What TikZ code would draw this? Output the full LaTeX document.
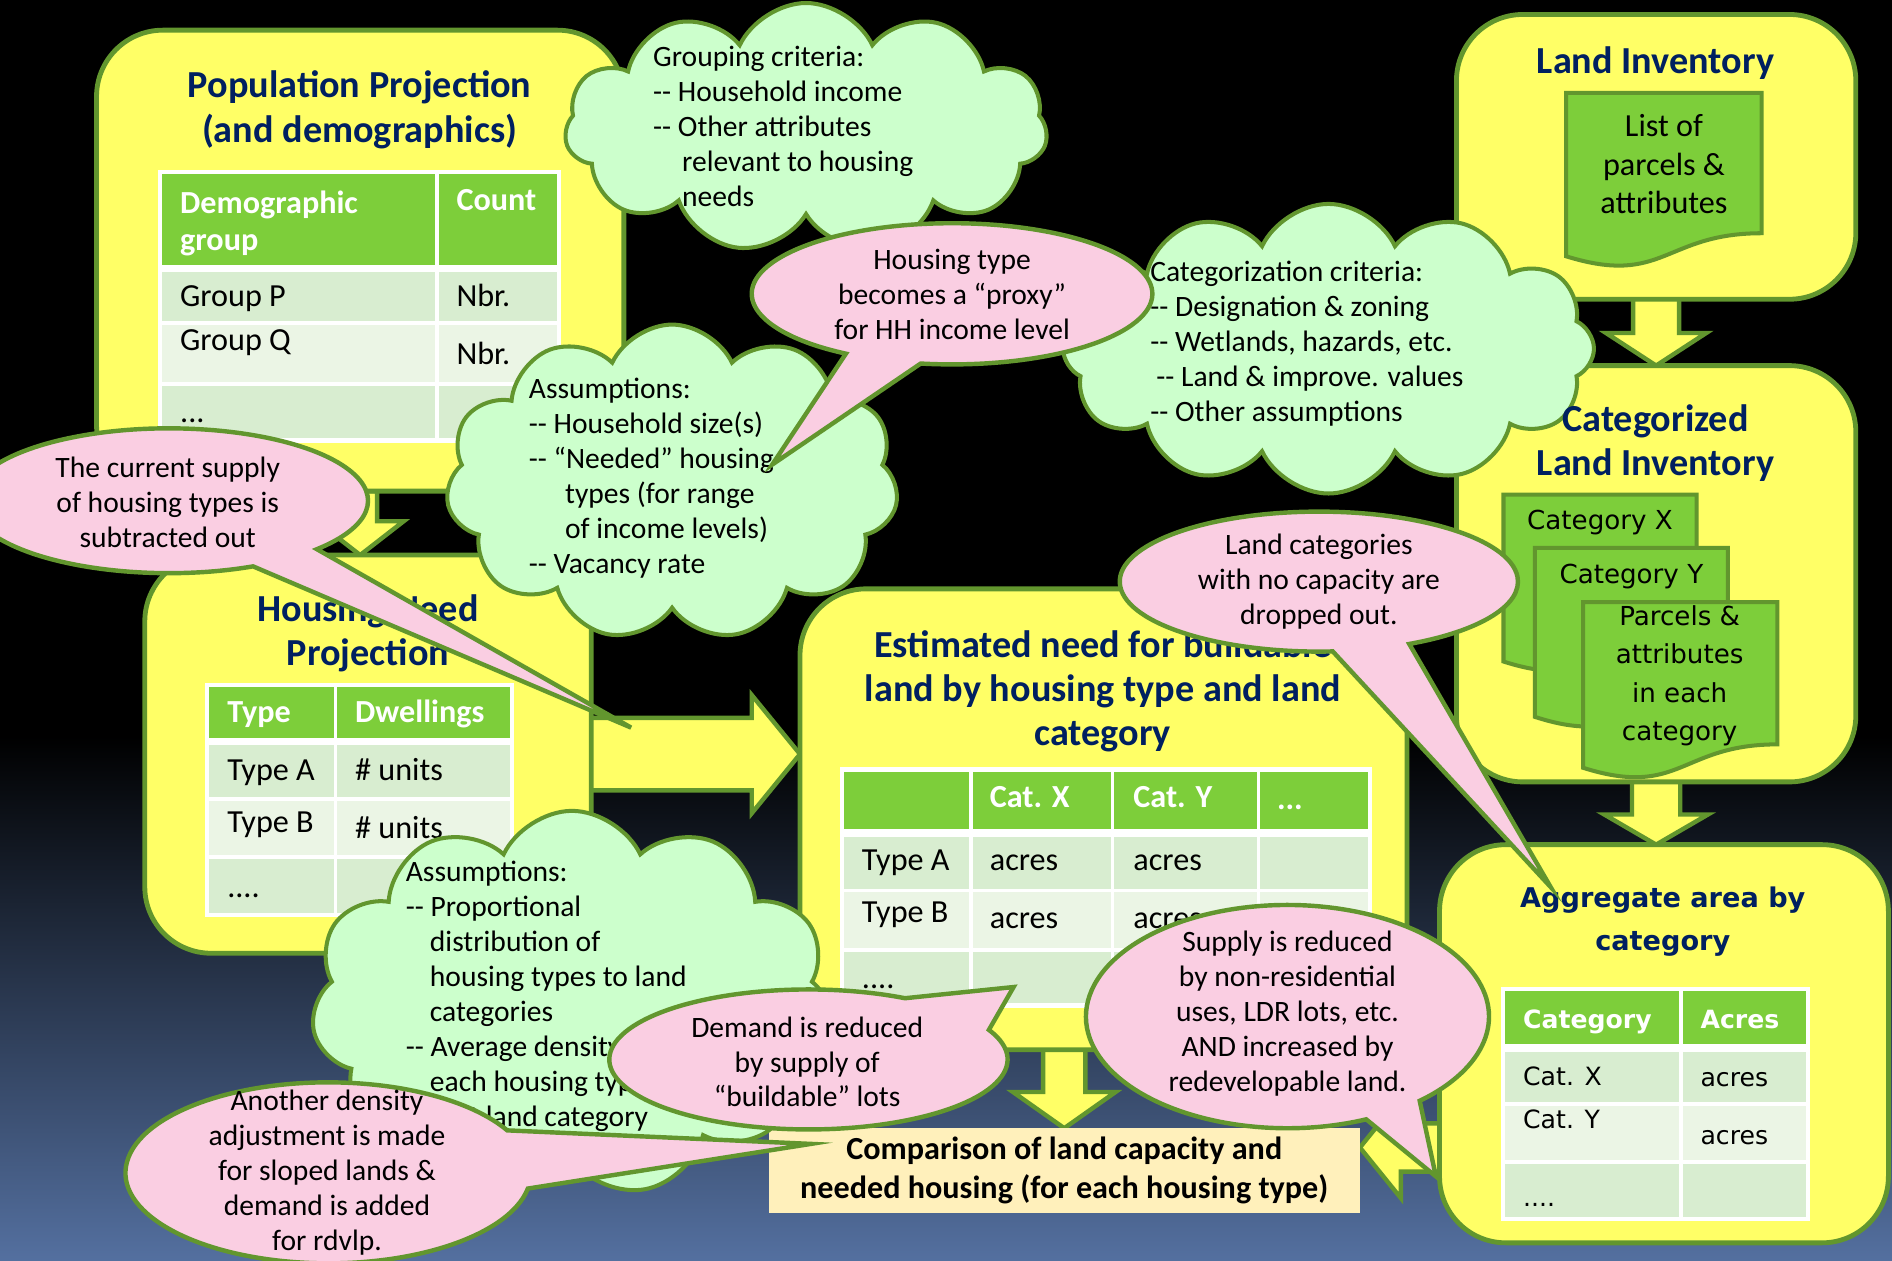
\documentclass[tikz,border=0pt]{standalone}
\usepackage{fontspec}
\setmainfont{Carlito}
\newfontfamily\dvs{DejaVu Sans}
\usetikzlibrary{shapes.symbols,calc}
\definecolor{yfill}{RGB}{255,255,102}
\definecolor{gline}{RGB}{98,150,46}
\definecolor{pfill}{RGB}{250,206,226}
\definecolor{cfill}{RGB}{204,255,204}
\definecolor{hdr}{RGB}{125,206,58}
\definecolor{rowa}{RGB}{216,237,208}
\definecolor{rowb}{RGB}{235,245,229}
\definecolor{navy}{RGB}{0,32,96}
\definecolor{cream}{RGB}{255,240,187}
\definecolor{bgblue}{RGB}{84,112,160}
\newcommand\dd{-\kern0pt-}
\newcommand\boxnode[6][]{\node[ybox,#1,minimum width={(#5-#3)*0.6pt},minimum height={(#6-#4)*0.6pt}] (#2) at ({(#3+#5)/2},{(#4+#6)/2}) {};}
\newcommand\cell[5]{\fill[#5] ({#1+1.6},{#2+1.6}) rectangle ({#3-1.6},{#4-1.6});}
\newcommand\docsh[4]{\draw[docst] (#1,#2) -- ({#1+#3},#2) -- ({#1+#3},{#2+0.802*#4}) .. controls ({#1+0.5*#3},{#2+0.802*#4}) and ({#1+0.5*#3},{#2+1.107*#4}) .. (#1,{#2+0.934*#4}) -- cycle;}
\newcommand\darrow[5]{\draw[barrow] ($(#1)+(-#3,0)$) -- ($(#1)+(#3,0)$) -- ($(#2)+(#3,-#5)$) -- ($(#2)+(#4,-#5)$) -- (#2) -- ($(#2)+(-#4,-#5)$) -- ($(#2)+(-#3,-#5)$) -- cycle;}
\newcommand\rarrow[5]{\draw[barrow] ($(#1)+(0,-#3)$) -- ($(#2)+(-#5,-#3)$) -- ($(#2)+(-#5,-#4)$) -- (#2) -- ($(#2)+(-#5,#4)$) -- ($(#2)+(-#5,#3)$) -- ($(#1)+(0,#3)$) -- cycle;}
\newcommand\larrow[5]{\draw[barrow] ($(#1)+(0,-#3)$) -- ($(#2)+(#5,-#3)$) -- ($(#2)+(#5,-#4)$) -- (#2) -- ($(#2)+(#5,#4)$) -- ($(#2)+(#5,#3)$) -- ($(#1)+(0,#3)$) -- cycle;}
\newcommand\callout[6]{\draw[callout] ($(#1)+(#4:#2 and #3)$) arc[start angle=#4, end angle={#5+360}, x radius=#2, y radius=#3] -- (#6) -- cycle;}
\tikzset{
 ybox/.style={draw=gline, line width=2.4pt, fill=yfill, rounded corners=33pt, inner sep=0pt, outer sep=0pt},
 barrow/.style={draw=gline, line width=2.2pt, fill=yfill, line join=miter},
 docst/.style={draw=gline, line width=2pt, fill=hdr, line join=miter},
 cloudy/.style={cloud, cloud puffs=11, cloud puff arc=130, cloud ignores aspect, draw=gline, fill=cfill, line width=2pt, inner sep=0pt, outer sep=0pt},
 callout/.style={draw=gline, fill=pfill, line width=2.2pt, line join=miter},
 ttl/.style={font=\fontsize{19}{22}\selectfont\bfseries, text=navy, align=center, inner sep=0pt},
 body/.style={font=\fontsize{14.7}{17.4}\selectfont, inner sep=0pt},
 ctext/.style={body, align=center},
 ltext/.style={body, align=left, anchor=west},
 tb/.style={font=\fontsize{16}{18.6}\selectfont, inner sep=0pt, anchor=west, text height=1.05em, text depth=0.23em},
 th/.style={tb, font=\fontsize{16}{18.6}\selectfont\bfseries, text=white},
 dtb/.style={font=\dvs\fontsize{12.5}{15}\selectfont, inner sep=0pt, anchor=west, text height=1.1em, text depth=0.2em},
 dth/.style={dtb, font=\dvs\fontsize{12.5}{15}\selectfont\bfseries, text=white},
}
\begin{document}
\begin{tikzpicture}[x=0.6pt,y=-0.6pt]
\useasboundingbox (0,0) rectangle (1568,1045);
\clip (0,0) rectangle (1568,1045);
% background
\fill[black] (0,0) rectangle (1568,1045);
\shade[top color=black, bottom color=bgblue] (0,610) rectangle (1568,1046);

% ---- block arrows (drawn first, boxes cover their ends) ----
\coordinate (popS) at (298.5,407);
\coordinate (hnN) at (298.5,460);
\coordinate (hnE) at (480,625);
\coordinate (estW) at (663,625);
\coordinate (liS) at (1372.5,238);
\coordinate (clN) at (1372.5,303);
\coordinate (clS) at (1372.5,638);
\coordinate (agN) at (1372.5,700);
\coordinate (estS) at (882,860);
\coordinate (cmpN) at (882,935);
\coordinate (agW) at (1203,951);
\coordinate (cmpE) at (1127,951);
\darrow{popS}{hnN}{14}{36}{28}
\rarrow{hnE}{estW}{30}{49}{40}
\darrow{liS}{clN}{19}{41.5}{27}
\darrow{clS}{agN}{20}{43}{25}
\darrow{estS}{cmpN}{17.5}{42.5}{30}
\larrow{agW}{cmpE}{20}{42}{34}

% ---- boxes ----
\boxnode{pop}{80}{25}{517}{407}
\boxnode{hn}{120}{460}{490}{790}
\boxnode{est}{663}{488}{1166}{870}
\boxnode{li}{1207}{12}{1538}{248}
\boxnode{cl}{1207}{303}{1538}{648}
\boxnode{ag}{1193}{700}{1565}{1030}
\node[fill=cream, inner sep=0pt, minimum width={490*0.6pt}, minimum height={70*0.6pt}] (cmp) at (882,970) {};

% ---- population table ----
\fill[white] (131,141) rectangle (465,367);
\cell{133}{143}{362}{221}{hdr} \cell{362}{143}{463}{221}{hdr}
\cell{133}{224}{362}{268}{rowa} \cell{362}{224}{463}{268}{rowa}
\cell{133}{268}{362}{318}{rowb} \cell{362}{268}{463}{318}{rowb}
\cell{133}{318}{362}{365}{rowa} \cell{362}{318}{463}{365}{rowa}
\node[ttl] (popT) at (298,91) {Population Projection\\(and demographics)};
\node[font=\fontsize{16}{18.6}\selectfont\bfseries, text=white, align=left, anchor=west, inner sep=0pt] (pH1) at (149,185) {Demographic\\group};
\node[th] (pH2) at (378,168) {Count};
\node[tb] (p11) at (149,247) {Group P};
\node[tb] (p12) at (378,247) {Nbr.};
\node[tb] (p21) at (149,284) {Group Q};
\node[tb] (p22) at (378,295) {Nbr.};
\node[tb] (p31) at (149,343) {...};

% ---- housing need table ----
\fill[white] (170,566) rectangle (426,760);
\cell{172}{568}{278}{613}{hdr} \cell{278}{568}{424}{613}{hdr}
\cell{172}{616}{278}{662}{rowa} \cell{278}{616}{424}{662}{rowa}
\cell{172}{662}{278}{710}{rowb} \cell{278}{662}{424}{710}{rowb}
\cell{172}{710}{278}{758}{rowa} \cell{278}{710}{424}{758}{rowa}
\node[ttl] (hnT) at (305,525) {Housing Need\\Projection};
\node[th] (h01) at (188,592) {Type};
\node[th] (h02) at (294,592) {Dwellings};
\node[tb] (h11) at (188,640) {Type A};
\node[tb] (h12) at (294,640) {\# units};
\node[tb] (h21) at (188,683) {Type B};
\node[tb] (h22) at (294,688) {\# units};
\node[tb] (h31) at (188,737) {....};

% ---- estimated table ----
\fill[white] (696,636) rectangle (1137,835);
\foreach \a/\b in {698/805,805/922,922/1043,1043/1135}{
 \cell{\a}{638}{\b}{689}{hdr}
 \cell{\a}{692}{\b}{738}{rowa}
 \cell{\a}{738}{\b}{787}{rowb}
 \cell{\a}{787}{\b}{833}{rowa}}
\node[ttl] (estT) at (914,573) {Estimated need for buildable\\land by housing type and land\\category};
\node[th] (e02) at (820,662) {Cat. X};
\node[th] (e03) at (939,662) {Cat. Y};
\node[th] (e04) at (1058,664) {...};
\node[tb] (e11) at (714,715) {Type A};
\node[tb] (e12) at (820,715) {acres};
\node[tb] (e13) at (939,715) {acres};
\node[tb] (e21) at (714,758) {Type B};
\node[tb] (e22) at (820,763) {acres};
\node[tb] (e23) at (939,763) {acres};
\node[tb] (e31) at (714,812) {....};

% ---- land inventory ----
\node[ttl] (liT) at (1372,52) {Land Inventory};
\docsh{1298}{77}{162}{145}
\node[font=\fontsize{16}{19.2}\selectfont, align=center, inner sep=0pt] (liD) at (1379,136) {List of\\parcels \&\\attributes};

% ---- categorized land inventory docs ----
\docsh{1246}{410}{160}{148}
\node[font=\dvs\fontsize{13}{19.2}\selectfont, inner sep=0pt] (cxT) at (1326,433) {Category X};
\docsh{1272}{454}{160}{150}
\node[font=\dvs\fontsize{13}{19.2}\selectfont, inner sep=0pt] (cyT) at (1352,478) {Category Y};
\docsh{1312}{499}{161}{147}
\node[font=\dvs\fontsize{13}{19.2}\selectfont, align=center, inner sep=0pt] (pcT) at (1392,560) {Parcels \&\\attributes\\in each\\category};

% ---- aggregate ----
\node[ttl, font=\dvs\fontsize{13.5}{21.6}\selectfont\bfseries] (agT) at (1378,764) {Aggregate area by\\category};
\fill[white] (1244,818) rectangle (1500,1012);
\cell{1246}{820}{1393}{867}{hdr} \cell{1393}{820}{1498}{867}{hdr}
\cell{1246}{870}{1393}{915}{rowa} \cell{1393}{870}{1498}{915}{rowa}
\cell{1246}{915}{1393}{963}{rowb} \cell{1393}{915}{1498}{963}{rowb}
\cell{1246}{963}{1393}{1010}{rowa} \cell{1393}{963}{1498}{1010}{rowa}
\node[dth] (a01) at (1262,845) {Category};
\node[dth] (a02) at (1409,845) {Acres};
\node[dtb] (a11) at (1262,892) {Cat. X};
\node[dtb] (a12) at (1409,893) {acres};
\node[dtb] (a21) at (1262,928) {Cat. Y};
\node[dtb] (a22) at (1409,941) {acres};
\node[dtb] (a31) at (1262,992) {....};

% ---- comparison text ----
\node[font=\fontsize{16}{19.8}\selectfont\bfseries, align=center, inner sep=0pt] (cmpT) at (cmp.center) {Comparison of land capacity and\\needed housing (for each housing type)};

% ---- clouds ----
\node[cloudy, minimum width={400*0.6pt}, minimum height={207*0.6pt}] (gc) at (668,106) {};
\node[ltext] (gcT) at (541,105) {Grouping criteria:\\\dd{} Household income\\\dd{} Other attributes\\\hspace*{14.4pt}relevant to housing\\\hspace*{14.4pt}needs};
\node[cloudy, cloud puffs=12, minimum width={440*0.6pt}, minimum height={240*0.6pt}] (cc) at (1101,289) {};
\node[ltext] (ccT) at (953,284.5) {Categorization criteria:\\\dd{} Designation \& zoning\\\dd{} Wetlands, hazards, etc.\\\hspace*{3pt}\dd{} Land \& improve. values\\\dd{} Other assumptions};
\node[cloudy, minimum width={375*0.6pt}, minimum height={262*0.6pt}] (a1c) at (557,400) {};
\node[ltext] (a1T) at (438,396.5) {Assumptions:\\\dd{} Household size(s)\\\dd{} “Needed” housing\\\hspace*{18pt}types (for range\\\hspace*{18pt}of income levels)\\\dd{} Vacancy rate};
\node[cloudy, minimum width={432*0.6pt}, minimum height={320*0.6pt}] (a2c) at (474,832) {};
\node[ltext] (a2T) at (336,825.5) {Assumptions:\\\dd{} Proportional\\\hspace*{12pt}distribution of\\\hspace*{12pt}housing types to land\\\hspace*{12pt}categories\\\dd{} Average density for\\\hspace*{12pt}each housing type in\\\hspace*{12pt}that land category};

% title of categorized box stays visible above the cloud edge
\node[ttl] (clT) at (1372,367) {Categorized\\Land Inventory};

% ---- callouts ----
\coordinate (csC) at (140,415);   \coordinate (csP) at (523,603);
\coordinate (htC) at (789,243.5); \coordinate (htP) at (640,385);
\coordinate (lcC) at (1093,482);  \coordinate (lcP) at (1285,735);
\coordinate (dmC) at (670,878);   \coordinate (dmP) at (840,818);
\coordinate (spC) at (1067,842.5);\coordinate (spP) at (1190,975);
\coordinate (anC) at (272,972);   \coordinate (anP) at (672,948);
\callout{csC}{165}{60}{65}{42}{csP}
\node[ctext] (csT) at (139,416) {The current supply\\of housing types is\\subtracted out};
\callout{htC}{166}{58.5}{122}{99}{htP}
\node[ctext] (htT) at (789,244) {Housing type\\becomes a “proxy”\\for HH income level};
\callout{lcC}{165}{58}{86}{63}{lcP}
\node[ctext] (lcT) at (1093,482) {Land categories\\with no capacity are\\dropped out.};
\callout{dmC}{165}{58}{-25}{-61}{dmP}
\node[ctext] (dmT) at (669,880) {Demand is reduced\\by supply of\\“buildable” lots};
\callout{spC}{167}{92.5}{67}{49}{spP}
\node[ctext] (spT) at (1067,840) {Supply is reduced\\by non-residential\\uses, LDR lots, etc.\\AND increased by\\redevelopable land.};
\callout{anC}{168}{75}{10}{-28}{anP}
\node[ctext] (anT) at (271,972) {Another density\\adjustment is made\\for sloped lands \&\\demand is added\\for rdvlp.};
\end{tikzpicture}
\end{document}
